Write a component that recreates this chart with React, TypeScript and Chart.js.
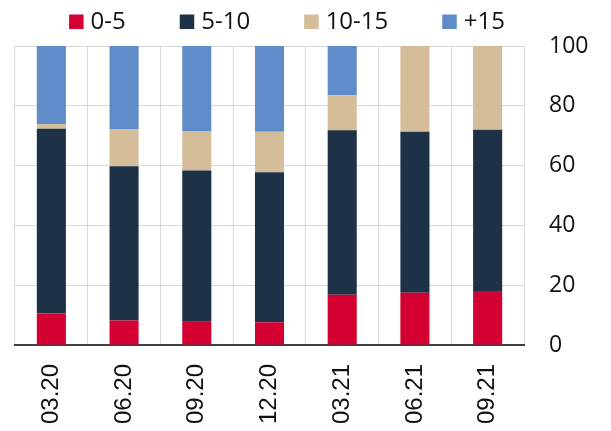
import React, { useEffect, useRef } from "react";
import { Chart, registerables } from "chart.js";

Chart.register(...registerables);

const categories = ["03.20", "06.20", "09.20", "12.20", "03.21", "06.21", "09.21"];
const seriesNames = ["0-5", "5-10", "10-15", "+15"];
const s0to5 = [10.6, 8.2, 8.0, 7.6, 16.8, 17.5, 18.1];
const s5to10 = [61.7, 51.6, 50.4, 50.2, 55.0, 53.8, 53.9];
const s10to15 = [1.6, 12.3, 13.2, 13.5, 11.7, 28.7, 28.0];
const sPlus15 = [26.1, 27.9, 28.4, 28.7, 16.5, 0, 0];
const colors = ["#d40032", "#1e3247", "#d5bd9a", "#5e8cc8"];
const yTicks = [0, 20, 40, 60, 80, 100];

const legendPlugin = {
  id: "customLegend",
  afterDraw(chart: any) {
    const ctx = chart.ctx;
    const font = "24px 'Open Sans'";
    ctx.save();
    ctx.font = font;
    const box = 14.5;
    const gapText = 7;
    const gapItem = 54;
    const items = chart.data.datasets.map((d: any) => ({
      label: d.label,
      color: d.backgroundColor,
      w: ctx.measureText(d.label).width,
    }));
    let total = 0;
    items.forEach((it: any, i: number) => {
      total += box + gapText + it.w + (i < items.length - 1 ? gapItem : 0);
    });
    const center = 287;
    let x = center - total / 2;
    const baseline = 29;
    ctx.textBaseline = "alphabetic";
    ctx.textAlign = "left";
    items.forEach((it: any) => {
      ctx.fillStyle = it.color;
      ctx.fillRect(x, baseline - box, box, box);
      x += box + gapText;
      ctx.fillStyle = "#111";
      ctx.fillText(it.label, x, baseline);
      x += it.w + gapItem;
    });
    ctx.restore();
  },
};

export default function App() {
  const ref = useRef<HTMLCanvasElement>(null);
  useEffect(() => {
    document.body.style.margin = "0";
    const values = [s0to5, s5to10, s10to15, sPlus15];
    const chart = new Chart(ref.current!, {
      type: "bar",
      data: {
        labels: categories,
        datasets: seriesNames.map((name, i) => ({
          label: name,
          data: values[i],
          backgroundColor: colors[i],
          borderWidth: 0,
          categoryPercentage: 1,
          barPercentage: 0.4,
        })),
      },
      options: {
        animation: false,
        responsive: false,
        maintainAspectRatio: false,
        layout: { padding: { top: 46, left: 15, right: 0, bottom: 0 } },
        plugins: {
          legend: { display: false },
          tooltip: { enabled: false },
        },
        scales: {
          x: {
            stacked: true,
            offset: true,
            afterFit: (axis: any) => {
              axis.height = 86;
            },
            grid: {
              display: true,
              offset: true,
              color: "#d9d9d9",
              lineWidth: 1,
              drawTicks: false,
            },
            border: { display: true, color: "#404040", width: 2 },
            ticks: {
              minRotation: 90,
              maxRotation: 90,
              padding: 19,
              color: "#111",
              font: { family: "'Liberation Sans', Arial, sans-serif", size: 24 },
              autoSkip: false,
            },
          },
          y: {
            stacked: true,
            position: "right",
            min: 0,
            max: 100,
            afterFit: (axis: any) => {
              axis.width = 87;
            },
            afterBuildTicks: (axis: any) => {
              axis.ticks = yTicks.map((v) => ({ value: v }));
            },
            grid: { color: "#d9d9d9", lineWidth: 1, drawTicks: false },
            border: { display: false },
            ticks: {
              padding: 25,
              color: "#111",
              font: { family: "'Open Sans', sans-serif", size: 23 },
            },
          },
        },
      },
      plugins: [legendPlugin],
    });
    return () => chart.destroy();
  }, []);
  return (
    <div style={{ position: "fixed", left: 0, top: 0, width: 611, height: 431 }}>
      <canvas ref={ref} width={611} height={431} style={{ width: 611, height: 431 }} />
    </div>
  );
}
